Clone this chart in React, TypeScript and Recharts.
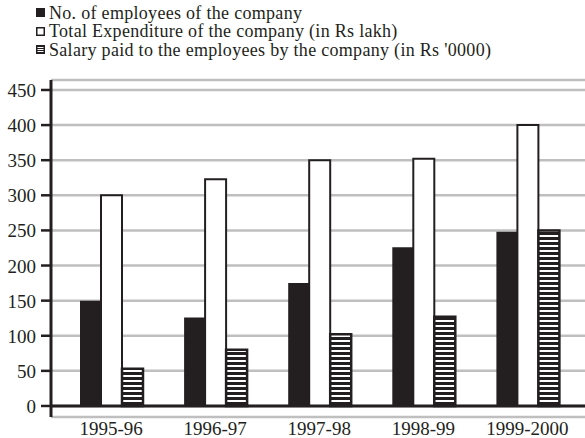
import {
  Bar,
  BarChart,
  CartesianGrid,
  Legend,
  ReferenceLine,
  XAxis,
  YAxis,
} from 'recharts';

const years = ['1995-96', '1996-97', '1997-98', '1998-99', '1999-2000'];
const employees = [150, 126, 175, 226, 248];
const expenditure = [300, 323, 350, 352, 400];
const salary = [53, 80, 102, 127, 250];
const yTicks = [0, 50, 100, 150, 200, 250, 300, 350, 400, 450];

const legendLabels = [
  'No. of employees of the company',
  'Total Expenditure of the company (in Rs lakh)',
  "Salary paid to the employees by the company (in Rs '0000)",
];

const data = years.map((year, i) => ({
  year,
  employees: employees[i],
  expenditure: expenditure[i],
  salary: salary[i],
}));

const INK = '#231f20';
const FONT = '"Liberation Serif", "Times New Roman", serif';

const LegendIcon = ({ kind }: { kind: number }) => {
  if (kind === 0) {
    return (
      <svg width={9} height={9}>
        <rect x={0} y={0} width={9} height={9} fill={INK} />
      </svg>
    );
  }
  if (kind === 1) {
    return (
      <svg width={9} height={9}>
        <rect x={0.75} y={0.75} width={7.5} height={7.5} fill='#fff' stroke={INK} strokeWidth={1.5} />
      </svg>
    );
  }
  return (
    <svg width={9} height={9}>
      <rect x={0} y={0} width={9} height={9} fill={INK} />
      <rect x={1.5} y={2} width={6} height={1} fill='#fff' />
      <rect x={1.5} y={4} width={6} height={1} fill='#fff' />
      <rect x={1.5} y={6} width={6} height={1} fill='#fff' />
    </svg>
  );
};

const LegendBox = () => (
  <div style={{ height: 80, paddingTop: 3.5, boxSizing: 'border-box', fontFamily: FONT }}>
    {legendLabels.map((label, i) => (
      <div
        key={label}
        style={{
          display: 'flex',
          alignItems: 'center',
          height: 18.6,
          lineHeight: '18.6px',
          fontSize: 18,
          color: INK,
          whiteSpace: 'nowrap',
        }}
      >
        <span style={{ width: 36 }} />
        <LegendIcon kind={i} />
        <span style={{ marginLeft: 4, letterSpacing: 0.3 }}>{label}</span>
      </div>
    ))}
  </div>
);

const XTick = ({ x, y, payload }: any) => (
  <text x={x} y={y + 16} textAnchor='middle' fill={INK} fontSize={19} fontFamily={FONT}>
    {payload.value}
  </text>
);

const YTick = ({ x, y, payload }: any) => (
  <text x={x} y={y + 7} textAnchor='end' fill={INK} fontSize={19} fontFamily={FONT}>
    {payload.value}
  </text>
);

const App = () => {
  return (
    <div style={{ position: 'absolute', left: 0, top: 0 }}>
      <BarChart
        width={585}
        height={438}
        data={data}
        margin={{ top: 0, right: 0, bottom: 0, left: 0 }}
        barSize={21}
        barGap={0}
        style={{ fontFamily: FONT }}
      >
        <defs>
          <pattern id='hatch' patternUnits='userSpaceOnUse' width={10} height={5}>
            <rect x={0} y={0} width={10} height={5} fill={INK} />
            <rect x={0} y={0} width={10} height={2} fill='#fff' />
          </pattern>
        </defs>
        <Legend verticalAlign='top' align='left' wrapperStyle={{ top: 0, left: 0 }} content={<LegendBox />} />
        <CartesianGrid horizontal vertical={false} stroke='#bfbfbf' strokeWidth={2.5} />
        <XAxis
          dataKey='year'
          axisLine={false}
          tickLine={false}
          tickSize={0}
          height={21}
          padding={{ left: 8, right: 5.5 }}
          tick={<XTick />}
          interval={0}
        />
        <YAxis
          width={51}
          domain={[-15.7, 464.2]}
          ticks={yTicks}
          allowDataOverflow
          axisLine={{ stroke: INK, strokeWidth: 3 }}
          tickLine={{ stroke: INK, strokeWidth: 2.5 }}
          tickSize={10}
          tickMargin={5}
          tick={<YTick />}
          interval={0}
        />
        <Bar dataKey='employees' fill={INK} isAnimationActive={false} />
        <Bar dataKey='expenditure' fill='#fff' stroke={INK} strokeWidth={2} isAnimationActive={false} />
        <Bar dataKey='salary' fill='url(#hatch)' stroke={INK} strokeWidth={2.5} isAnimationActive={false} />
        <ReferenceLine y={0} stroke={INK} strokeWidth={3} />
      </BarChart>
    </div>
  );
};

export default App;
